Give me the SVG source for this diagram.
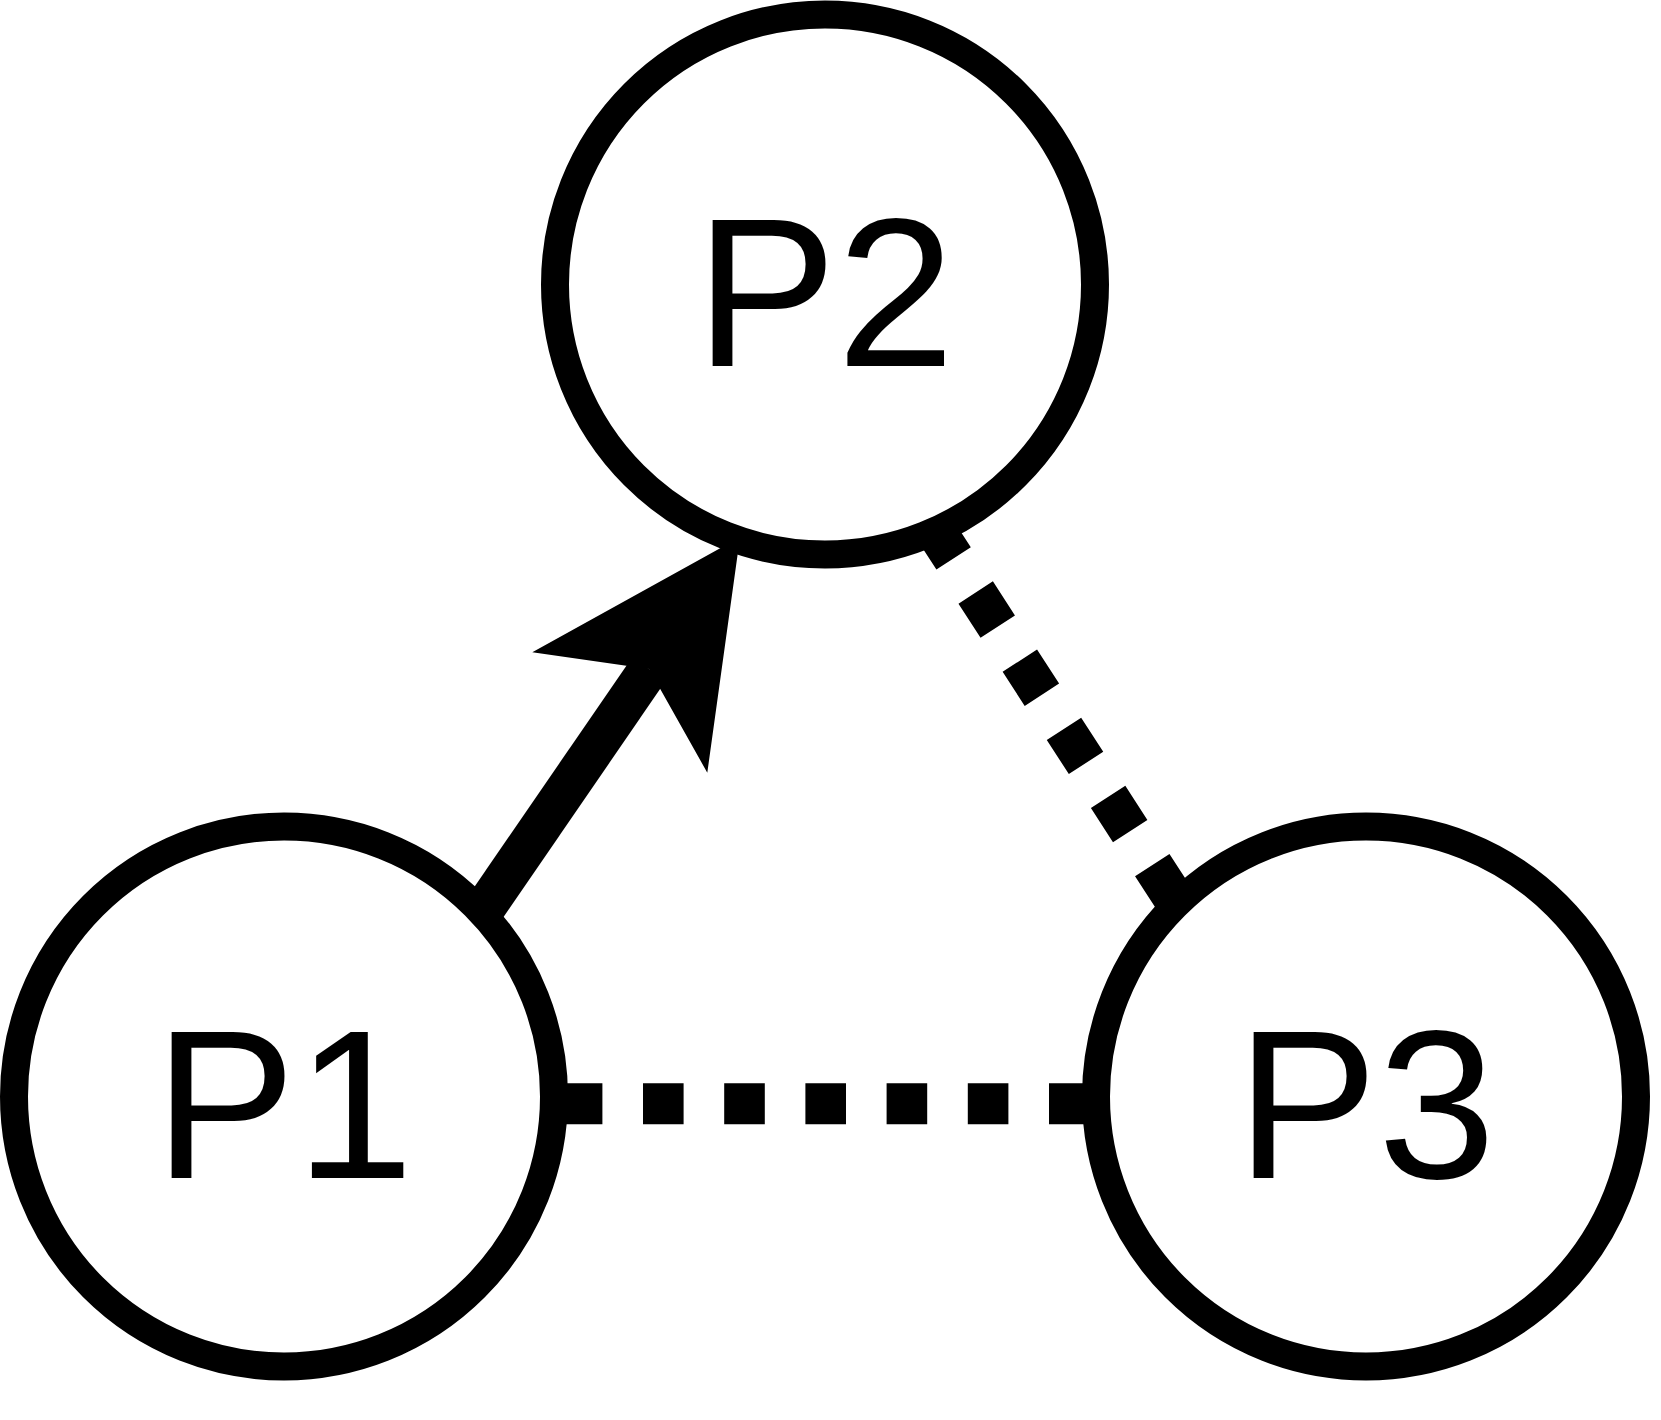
<svg xmlns="http://www.w3.org/2000/svg" width="1661" height="1420" viewBox="0 0 1661 1420">
  <style>
    .node circle { fill: #ffffff; stroke: #000000; stroke-width: 28; }
    .node text { font-family: "Liberation Sans", Arial, sans-serif; font-size: 212px; fill: #000000; text-anchor: middle; }
    .edge { fill: none; stroke: #000000; stroke-width: 41; stroke-linecap: butt; }
    .dotted { stroke-dasharray: 40.6 40.6; }
    .head { fill: #000000; stroke: none; }
  </style>
  <rect width="1661" height="1420" fill="#ffffff"/>
  <g id="connectors">
    <g id="edge-P1-P2">
      <line class="edge" x1="439.7" y1="973.6" x2="649" y2="669"/>
      <polygon class="head" points="740,537.2 532.3,652.3 649,669 707.3,772.7"/>
    </g>
    <line id="edge-P1-P3" class="edge dotted" x1="480.6" y1="1103.7" x2="1110" y2="1103.7"/>
    <line id="edge-P2-P3" class="edge dotted" x1="887.4" y1="456.2" x2="1258.6" y2="1029.3"/>
  </g>
  <g id="node-P2" class="node">
    <circle cx="825" cy="284.5" r="270"/>
    <text x="825" y="365.5">P2</text>
  </g>
  <g id="node-P1" class="node">
    <circle cx="284" cy="1096.5" r="270"/>
    <text x="284" y="1178">P1</text>
  </g>
  <g id="node-P3" class="node">
    <circle cx="1366" cy="1096.5" r="270"/>
    <text x="1366" y="1178">P3</text>
  </g>
</svg>
